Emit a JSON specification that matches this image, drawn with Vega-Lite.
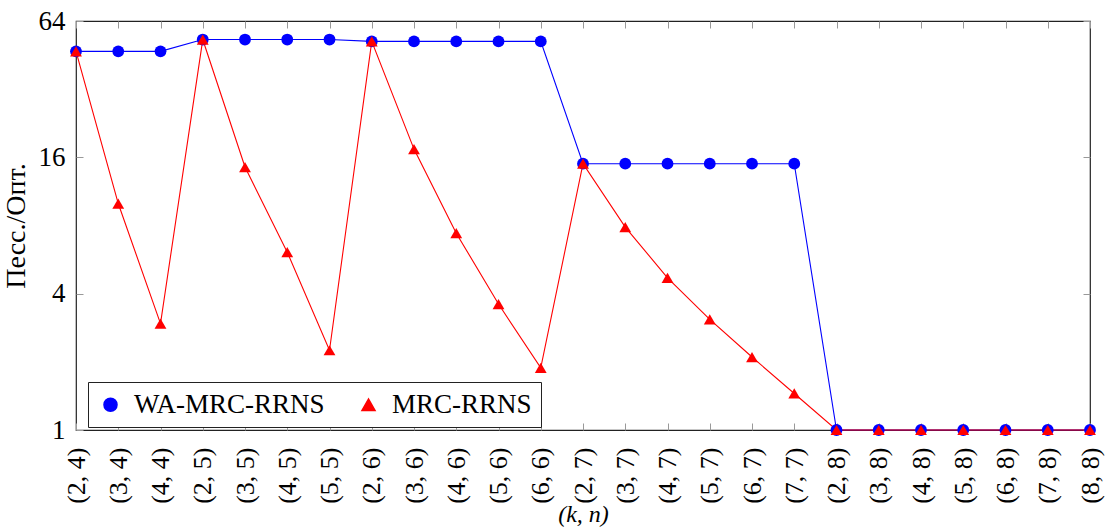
{
  "$schema": "https://vega.github.io/schema/vega-lite/v6.json",
  "autosize": {"type": "none"},
  "width": 1014,
  "height": 409,
  "padding": {"left": 76, "top": 21, "right": 19, "bottom": 98},
  "background": "white",
  "config": {
    "view": {"stroke": "#222222", "strokeWidth": 1.2},
    "font": "Liberation Serif",
    "axis": {"grid": false, "labelFont": "Liberation Serif", "titleFont": "Liberation Serif", "labelColor": "black", "titleColor": "black", "titleFontWeight": "normal", "tickColor": "#999999", "domain": false},
    "legend": {"labelFont": "Liberation Serif", "titleFont": "Liberation Serif"}
  },
  "data": {"values": [
    {"kn": "(2, 4)", "series": "WA-MRC-RRNS", "v": 47},
    {"kn": "(3, 4)", "series": "WA-MRC-RRNS", "v": 47},
    {"kn": "(4, 4)", "series": "WA-MRC-RRNS", "v": 47},
    {"kn": "(2, 5)", "series": "WA-MRC-RRNS", "v": 53},
    {"kn": "(3, 5)", "series": "WA-MRC-RRNS", "v": 53},
    {"kn": "(4, 5)", "series": "WA-MRC-RRNS", "v": 53},
    {"kn": "(5, 5)", "series": "WA-MRC-RRNS", "v": 53},
    {"kn": "(2, 6)", "series": "WA-MRC-RRNS", "v": 52},
    {"kn": "(3, 6)", "series": "WA-MRC-RRNS", "v": 52},
    {"kn": "(4, 6)", "series": "WA-MRC-RRNS", "v": 52},
    {"kn": "(5, 6)", "series": "WA-MRC-RRNS", "v": 52},
    {"kn": "(6, 6)", "series": "WA-MRC-RRNS", "v": 52},
    {"kn": "(2, 7)", "series": "WA-MRC-RRNS", "v": 15},
    {"kn": "(3, 7)", "series": "WA-MRC-RRNS", "v": 15},
    {"kn": "(4, 7)", "series": "WA-MRC-RRNS", "v": 15},
    {"kn": "(5, 7)", "series": "WA-MRC-RRNS", "v": 15},
    {"kn": "(6, 7)", "series": "WA-MRC-RRNS", "v": 15},
    {"kn": "(7, 7)", "series": "WA-MRC-RRNS", "v": 15},
    {"kn": "(2, 8)", "series": "WA-MRC-RRNS", "v": 1},
    {"kn": "(3, 8)", "series": "WA-MRC-RRNS", "v": 1},
    {"kn": "(4, 8)", "series": "WA-MRC-RRNS", "v": 1},
    {"kn": "(5, 8)", "series": "WA-MRC-RRNS", "v": 1},
    {"kn": "(6, 8)", "series": "WA-MRC-RRNS", "v": 1},
    {"kn": "(7, 8)", "series": "WA-MRC-RRNS", "v": 1},
    {"kn": "(8, 8)", "series": "WA-MRC-RRNS", "v": 1},
    {"kn": "(2, 4)", "series": "MRC-RRNS", "v": 47},
    {"kn": "(3, 4)", "series": "MRC-RRNS", "v": 10},
    {"kn": "(4, 4)", "series": "MRC-RRNS", "v": 2.95},
    {"kn": "(2, 5)", "series": "MRC-RRNS", "v": 53},
    {"kn": "(3, 5)", "series": "MRC-RRNS", "v": 14.5},
    {"kn": "(4, 5)", "series": "MRC-RRNS", "v": 6.1},
    {"kn": "(5, 5)", "series": "MRC-RRNS", "v": 2.25},
    {"kn": "(2, 6)", "series": "MRC-RRNS", "v": 52},
    {"kn": "(3, 6)", "series": "MRC-RRNS", "v": 17.4},
    {"kn": "(4, 6)", "series": "MRC-RRNS", "v": 7.4},
    {"kn": "(5, 6)", "series": "MRC-RRNS", "v": 3.6},
    {"kn": "(6, 6)", "series": "MRC-RRNS", "v": 1.88},
    {"kn": "(2, 7)", "series": "MRC-RRNS", "v": 15},
    {"kn": "(3, 7)", "series": "MRC-RRNS", "v": 7.87},
    {"kn": "(4, 7)", "series": "MRC-RRNS", "v": 4.7},
    {"kn": "(5, 7)", "series": "MRC-RRNS", "v": 3.08},
    {"kn": "(6, 7)", "series": "MRC-RRNS", "v": 2.1},
    {"kn": "(7, 7)", "series": "MRC-RRNS", "v": 1.45},
    {"kn": "(2, 8)", "series": "MRC-RRNS", "v": 1},
    {"kn": "(3, 8)", "series": "MRC-RRNS", "v": 1},
    {"kn": "(4, 8)", "series": "MRC-RRNS", "v": 1},
    {"kn": "(5, 8)", "series": "MRC-RRNS", "v": 1},
    {"kn": "(6, 8)", "series": "MRC-RRNS", "v": 1},
    {"kn": "(7, 8)", "series": "MRC-RRNS", "v": 1},
    {"kn": "(8, 8)", "series": "MRC-RRNS", "v": 1}
  ]},
  "resolve": {"axis": {"x": "independent", "y": "independent"}},
  "encoding": {
    "color": {"field": "series", "type": "nominal", "sort": ["WA-MRC-RRNS", "MRC-RRNS"], "scale": {"domain": ["WA-MRC-RRNS", "MRC-RRNS"], "range": ["#0000ff", "#ff0000"]},
      "legend": {"title": null, "orient": "none", "legendX": 12, "legendY": 361, "direction": "horizontal",
        "strokeColor": "#222222", "padding": 9, "fillColor": "white",
        "labelFont": "Liberation Serif", "labelFontSize": 27, "labelColor": "black", "labelOffset": 10, "labelLimit": 400, "columnPadding": 30,
        "symbolSize": 170, "symbolOpacity": 1,
        "encode": {"labels": {"update": {"font": {"value": "Liberation Serif"}}}}}}
  },
  "layer": [
    {
      "mark": {"type": "line", "strokeWidth": 1.1},
      "encoding": {
        "x": {"field": "kn", "type": "ordinal", "sort": null, "scale": {"type": "point", "padding": 0},
              "axis": {"orient": "bottom", "title": "(k, n)", "titleFontSize": 24, "titleFontStyle": "italic", "titlePadding": -1, "labelFontSize": 26, "labelAngle": -90, "labelPadding": 24, "tickSize": -7, "labelBaseline": "middle", "labelAlign": "right"}},
        "y": {"field": "v", "type": "quantitative", "scale": {"type": "log", "base": 2, "domain": [1, 64], "nice": false},
              "axis": {"orient": "left", "title": "Песс./Опт.", "titleFontSize": 28, "titlePadding": 8, "labelFontSize": 27, "values": [1, 4, 16, 64], "labelPadding": 18, "tickSize": -7, "labelBaseline": "middle", "labelFlush": false, "format": "d"}}
      }
    },
    {
      "mark": {"type": "point", "filled": true, "opacity": 1, "size": 140},
      "encoding": {
        "x": {"field": "kn", "type": "ordinal", "sort": null, "axis": {"orient": "top", "title": null, "labels": false, "tickSize": -7}},
        "y": {"field": "v", "type": "quantitative", "axis": {"orient": "right", "title": null, "labels": false, "values": [1, 4, 16, 64], "tickSize": -7}},
        "shape": {"field": "series", "type": "nominal", "sort": ["WA-MRC-RRNS", "MRC-RRNS"], "scale": {"domain": ["WA-MRC-RRNS", "MRC-RRNS"], "range": ["circle", "triangle-up"]},
          "legend": {"title": null, "orient": "none", "legendX": 12, "legendY": 361, "direction": "horizontal",
            "strokeColor": "#222222", "padding": 9, "fillColor": "white",
            "labelFont": "Liberation Serif", "labelFontSize": 27, "labelColor": "black", "labelOffset": 10, "labelLimit": 400, "columnPadding": 30,
            "symbolSize": 170, "symbolOpacity": 1,
            "encode": {"labels": {"update": {"font": {"value": "Liberation Serif"}}}}}}
      }
    }
  ]
}
